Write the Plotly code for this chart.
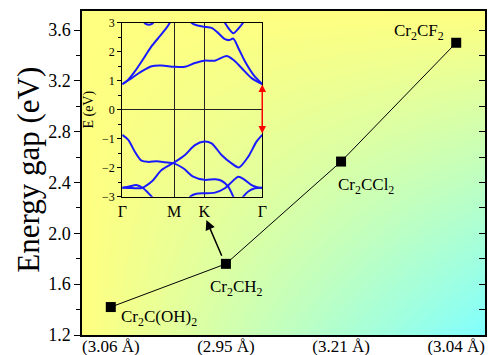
import numpy as np
import plotly.graph_objects as go

# ---------------- main data ----------------
compounds = ['Cr<sub>2</sub>C(OH)<sub>2</sub>', 'Cr<sub>2</sub>CH<sub>2</sub>',
             'Cr<sub>2</sub>CCl<sub>2</sub>', 'Cr<sub>2</sub>CF<sub>2</sub>']
lattice_labels = ['(3.06 Å)', '(2.95 Å)', '(3.21 Å)', '(3.04 Å)']
energy_gap = [1.42, 1.76, 2.565, 3.50]
cat_pos = [0, 1, 2, 3]
y_major = [1.2, 1.6, 2.0, 2.4, 2.8, 3.2, 3.6]
y_all = [1.2, 1.4, 1.6, 1.8, 2.0, 2.2, 2.4, 2.6, 2.8, 3.0, 3.2, 3.4, 3.6]

# ---------------- inset band structure (path fraction s, energy E) ----------------
k_ticks = [0.0, 0.37, 0.586, 1.0]
k_labels = ['Γ', 'M', 'K', 'Γ']

bands = {
    'c1': ([0, 0.067, 0.138, 0.21, 0.281, 0.37, 0.448, 0.519, 0.586, 0.662, 0.745, 0.793, 0.852, 0.924, 1.0],
           [0.88, 1.09, 1.32, 1.50, 1.52, 1.48, 1.48, 1.61, 1.69, 1.69, 1.85, 1.72, 1.44, 1.09, 0.88]),
    'c2a': ([0, 0.04, 0.09, 0.162, 0.21, 0.257, 0.316, 0.34, 0.36],
            [0.88, 1.02, 1.32, 1.84, 2.19, 2.47, 2.82, 3.0, 3.15]),
    'c2b': ([0.48, 0.495, 0.531, 0.586, 0.638, 0.686, 0.733, 0.765, 0.793, 0.829, 0.876, 0.936, 1.0],
            [3.15, 3.0, 2.91, 2.86, 2.82, 2.64, 2.43, 2.40, 2.45, 2.13, 1.67, 1.21, 0.88]),
    'c3': ([0.72, 0.733, 0.76, 0.793, 0.83, 0.864, 0.88],
           [3.1, 3.0, 2.8, 2.64, 2.8, 3.0, 3.1]),
    'c4': ([0.15, 0.165, 0.19, 0.215, 0.23],
           [3.05, 2.97, 2.93, 2.97, 3.05]),
    'v1': ([0, 0.043, 0.09, 0.138, 0.186, 0.245, 0.305, 0.37, 0.436, 0.507, 0.586, 0.662, 0.709, 0.757, 0.793, 0.81],
           [-0.87, -1.04, -1.45, -1.76, -1.80, -1.78, -1.81, -1.85, -2.02, -2.31, -2.42, -2.40, -2.45, -2.65, -3.0, -3.2]),
    'v2': ([0, 0.05, 0.1, 0.15, 0.185, 0.21, 0.23],
           [-2.69, -2.65, -2.60, -2.71, -2.87, -3.0, -3.15]),
    'v3': ([0, 0.07, 0.14, 0.21, 0.281, 0.37, 0.448, 0.519, 0.586, 0.638, 0.709, 0.781, 0.833, 0.9, 0.959, 1.0],
           [-2.69, -2.70, -2.70, -2.48, -2.08, -1.82, -1.56, -1.22, -1.10, -1.16, -1.56, -1.85, -1.99, -1.62, -1.10, -0.87]),
    'v4': ([0.47, 0.49, 0.53, 0.586, 0.662, 0.733, 0.78, 0.829, 0.87, 0.924, 0.971, 1.0],
           [-3.1, -2.98, -2.90, -2.88, -2.86, -2.71, -2.50, -2.31, -2.40, -2.60, -2.68, -2.69]),
    'v5': ([0.85, 0.864, 0.9, 0.948, 1.0],
           [-3.1, -3.0, -2.82, -2.71, -2.69]),
}
gap_top = 0.87
gap_bottom = -0.87

FONT = 'Liberation Serif'
X_RANGE = [-0.25, 3.25]
Y_RANGE = [1.2, 3.75]

fig = go.Figure()

# background gradient (style only)
gx = np.linspace(-0.35, 3.35, 80)
gy = np.linspace(1.1, 3.85, 80)
GX, GY = np.meshgrid(gx, gy)
xf = np.clip((GX - X_RANGE[0]) / (X_RANGE[1] - X_RANGE[0]), 0, 1)
yf = np.clip((Y_RANGE[1] - GY) / (Y_RANGE[1] - Y_RANGE[0]), 0, 1)
fig.add_trace(go.Heatmap(x=gx, y=gy, z=xf * yf, zmin=0, zmax=1, zsmooth='best',
                         colorscale=[[0, '#ffff80'], [1, '#80ffff']],
                         showscale=False, hoverinfo='skip'))

fig.add_trace(go.Scatter(x=cat_pos, y=energy_gap, mode='lines+markers',
                         line=dict(color='black', width=1),
                         marker=dict(symbol='square', size=10, color='black'),
                         showlegend=False))
fig.add_trace(go.Scatter(x=[], y=[], yaxis='y2', showlegend=False))

for name, (s, e) in bands.items():
    fig.add_trace(go.Scatter(x=s, y=e, mode='lines', xaxis='x3', yaxis='y3',
                             line=dict(color='#1a1aff', width=2, shape='spline', smoothing=0.8),
                             showlegend=False, hoverinfo='skip'))

annotations = [
    dict(x=2.911, y=3.585, text=compounds[3], xanchor='right', yanchor='middle'),
    dict(x=1.957, y=2.37, text=compounds[2], xanchor='left', yanchor='middle'),
    dict(x=0.841, y=1.57, text=compounds[1], xanchor='left', yanchor='middle'),
    dict(x=0.072, y=1.335, text=compounds[0], xanchor='left', yanchor='middle'),
]
for a in annotations:
    a.update(xref='x', yref='y', showarrow=False, font=dict(family=FONT, size=17, color='black'))

annotations.append(dict(x=0.83, y=2.105, ax=0.969, ay=1.812, xref='x', yref='y', axref='x', ayref='y',
                        text='', showarrow=True, arrowhead=2, arrowsize=1.3, arrowwidth=1.5,
                        arrowcolor='black'))
annotations.append(dict(x=1.0, y=gap_top, ax=1.0, ay=gap_bottom, xref='x3', yref='y3', axref='x3', ayref='y3',
                        text='', showarrow=True, arrowhead=2, arrowside='end+start', arrowsize=1,
                        arrowwidth=1.5, arrowcolor='red'))
annotations.append(dict(x=-0.1315, y=0.51, xref='paper', yref='paper', text='Energy gap (eV)',
                        xanchor='center', yanchor='middle',
                        textangle=-90, showarrow=False, font=dict(family=FONT, size=31, color='black')))

fig.update_layout(
    width=488, height=355,
    margin=dict(l=82, r=3, t=11, b=20, autoexpand=False),
    paper_bgcolor='white', plot_bgcolor='rgba(0,0,0,0)',
    font=dict(family=FONT, color='black'),
    showlegend=False,
    xaxis=dict(range=X_RANGE, tickvals=cat_pos, ticktext=lattice_labels, ticks='',
               ticklabelstandoff=-5,
               showline=True, mirror=True, linecolor='black', linewidth=1.5, automargin=False,
               showgrid=False, zeroline=False, tickfont=dict(size=17, family=FONT)),
    yaxis=dict(range=Y_RANGE, tickvals=y_major, ticktext=[f'{v:.1f}' for v in y_major],
               ticks='outside', ticklen=6, tickwidth=1, tickcolor='black', automargin=False,
               minor=dict(tickvals=y_all, ticks='outside', ticklen=4, tickcolor='black'),
               showline=True, mirror=True, linecolor='black', linewidth=1.5,
               showgrid=False, zeroline=False, tickfont=dict(size=18, family=FONT)),
    yaxis2=dict(range=Y_RANGE, overlaying='y', side='right', tickvals=y_all, ticks='inside',
                ticklen=6, tickcolor='black', showticklabels=False, showline=False, automargin=False,
                showgrid=False, zeroline=False),
    xaxis3=dict(domain=[0.0999, 0.4473], anchor='y3', range=[0, 1], tickvals=k_ticks,
                ticktext=k_labels, ticks='', showline=True, mirror=True, linecolor='black',
                linewidth=1, showgrid=True, gridcolor='#222222', gridwidth=1, zeroline=False,
                automargin=False, tickfont=dict(size=16, family=FONT)),
    yaxis3=dict(domain=[0.4269, 0.9639], anchor='x3', range=[-3, 3], dtick=1,
                ticks='outside', ticklen=4, tickcolor='black', automargin=False,
                minor=dict(dtick=0.5, ticks='outside', ticklen=3, tickcolor='black'),
                showline=True, mirror=True, linecolor='black', linewidth=1,
                showgrid=False, zeroline=True, zerolinecolor='#222222', zerolinewidth=1,
                tickfont=dict(size=12, family=FONT),
                title=dict(text='E (eV)', font=dict(size=14, family=FONT), standoff=5)),
    annotations=annotations,
)

fig.write_html('out.html', config={'displayModeBar': False},
               post_script="document.body.style.margin='0';document.body.style.padding='0';")
